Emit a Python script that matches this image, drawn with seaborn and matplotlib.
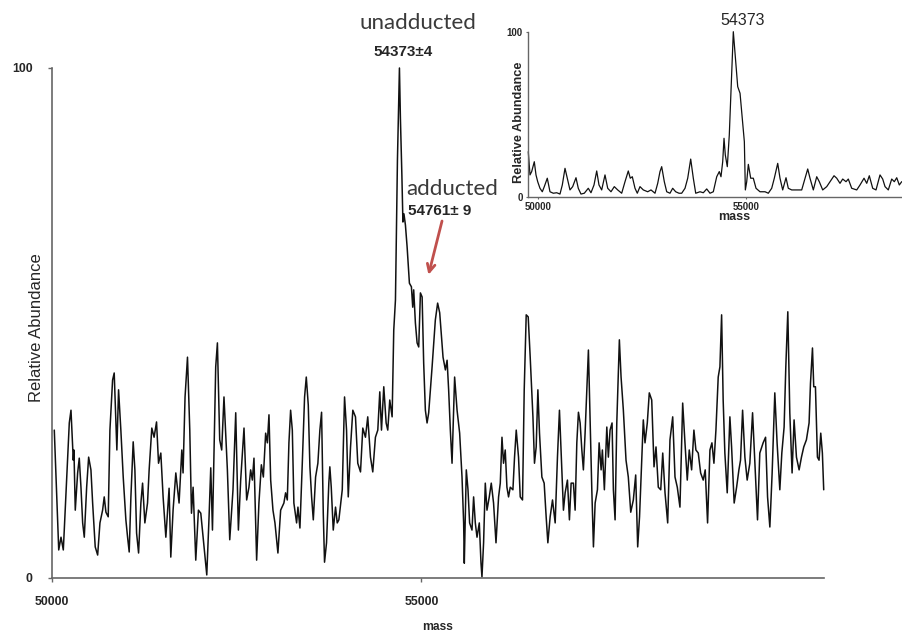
import matplotlib
matplotlib.use("Agg")
import matplotlib.pyplot as plt
import seaborn as sns

# main spectrum (mass, relative abundance)
mass_main = [
    50031, 50091, 50122, 50153, 50166, 50234, 50257, 50288, 50297, 50315,
    50347, 50369, 50392, 50415, 50437, 50469, 50496, 50527, 50550, 50585,
    50618, 50649, 50685, 50707, 50730, 50761, 50784, 50820, 50842, 50865,
    50878, 50901, 50932, 50964, 51000, 51023, 51045, 51068, 51099, 51122,
    51145, 51172, 51203, 51226, 51257, 51293, 51315, 51351, 51382, 51415,
    51442, 51473, 51504, 51541, 51585, 51608, 51639, 51676, 51720, 51757,
    51774, 51801, 51834, 51865, 51888, 51910, 51946, 51982, 52014, 52058,
    52095, 52126, 52149, 52172, 52193, 52216, 52239, 52270, 52297, 52328,
    52374, 52406, 52450, 52487, 52523, 52554, 52599, 52635, 52666, 52689,
    52712, 52734, 52770, 52801, 52834, 52861, 52892, 52915, 52937, 52960,
    52991, 53018, 53058, 53095, 53139, 53162, 53185, 53207, 53230, 53253,
    53274, 53311, 53329, 53356, 53388, 53419, 53442, 53469, 53491, 53514,
    53537, 53568, 53599, 53626, 53649, 53672, 53689, 53716, 53747, 53761,
    53780, 53807, 53838, 53861, 53883, 53929, 53960, 53987, 54010, 54041,
    54072, 54108, 54139, 54176, 54207, 54243, 54274, 54311, 54342, 54378,
    54410, 54437, 54460, 54491, 54523, 54545, 54572, 54604, 54626, 54649,
    54676, 54703, 54716, 54736, 54750, 54764, 54784, 54807, 54838, 54865,
    54883, 54896, 54919, 54942, 54964, 54987, 55010, 55031, 55054, 55077,
    55099, 55145, 55189, 55220, 55248, 55293, 55325, 55348, 55369, 55392,
    55415, 55437, 55450, 55483, 55518, 55550, 55572, 55581, 55608, 55631,
    55653, 55685, 55707, 55730, 55753, 55784, 55807, 55820, 55842, 55865,
    55888, 55919, 55946, 55977, 56010, 56045, 56068, 56091, 56112, 56135,
    56158, 56180, 56203, 56239, 56261, 56284, 56315, 56338, 56369, 56392,
    56419, 56446, 56473, 56510, 56531, 56554, 56577, 56599, 56631, 56662,
    56689, 56712, 56743, 56775, 56811, 56842, 56869, 56902, 56923, 56946,
    56977, 57004, 57027, 57058, 57081, 57104, 57126, 57149, 57172, 57193,
    57216, 57239, 57261, 57284, 57307, 57329, 57352, 57383, 57406, 57433,
    57450, 57477, 57510, 57531, 57554, 57581, 57599, 57622, 57645, 57680,
    57703, 57734, 57770, 57801, 57834, 57869, 57901, 57928, 57953, 57982,
    58004, 58027, 58058, 58085, 58118, 58149, 58176, 58207, 58240, 58267,
    58298, 58334, 58365, 58402, 58433, 58464, 58500, 58537, 58568, 58599,
    58626, 58658, 58689, 58716, 58748, 58780, 58815, 58842, 58874, 58906,
    58933, 58960, 58987, 59018, 59041, 59064, 59085, 59108, 59140, 59176,
    59199, 59234, 59267, 59298, 59320, 59348, 59379, 59410, 59446, 59483,
    59514, 59550, 59581, 59626, 59659, 59686, 59717, 59748, 59784, 59815,
    59852, 59879, 59910, 59933, 59960, 59987, 60018, 60045, 60077, 60113,
    60145, 60176, 60212, 60248, 60267, 60294, 60311, 60334, 60361, 60383,
    60406, 60428, 60446,
]
abund_main = [
    29.0, 5.5, 8.0, 5.5, 9.4, 30.4, 32.9, 23.1, 25.1, 13.3,
    20.6, 23.5, 17.8, 10.8, 8.0, 17.8, 23.7, 21.2, 14.7, 6.1,
    4.5, 10.8, 13.3, 15.9, 12.9, 12.0, 29.0, 38.8, 40.2, 30.4,
    25.1, 36.9, 29.0, 19.8, 11.4, 8.0, 5.1, 15.9, 26.7, 21.2,
    8.8, 4.9, 14.7, 18.6, 10.8, 14.7, 21.2, 29.4, 27.6, 30.6,
    22.5, 24.5, 15.9, 8.0, 17.6, 4.1, 13.3, 20.6, 14.7, 25.1,
    20.6, 35.5, 43.3, 29.0, 12.7, 17.8, 3.5, 13.3, 12.7, 6.1,
    0.6, 12.0, 21.6, 9.4, 24.5, 41.4, 46.1, 27.1, 25.1, 35.5,
    21.2, 7.5, 17.3, 32.4, 9.4, 19.2, 29.4, 15.3, 17.8, 21.2,
    19.2, 23.5, 3.5, 14.7, 22.2, 19.8, 28.4, 26.5, 32.0, 19.2,
    13.3, 10.8, 4.9, 13.3, 14.7, 16.7, 15.3, 26.5, 32.9, 29.0,
    14.7, 10.8, 13.9, 9.8, 22.5, 35.5, 39.4, 33.9, 21.8, 15.9,
    11.4, 19.8, 22.5, 29.0, 32.5, 12.7, 3.1, 6.9, 18.6, 21.8,
    17.8, 9.4, 13.9, 10.8, 11.4, 17.3, 35.5, 29.0, 15.9, 25.7,
    32.9, 31.6, 22.5, 20.8, 29.4, 27.6, 31.6, 23.7, 20.8, 27.6,
    29.0, 36.5, 29.0, 37.5, 30.4, 29.0, 34.9, 31.6, 48.6, 54.5,
    82.0, 100.0, 90.2, 79.0, 69.8, 71.4, 69.2, 64.9, 57.8, 57.1,
    53.1, 56.5, 50.0, 46.1, 45.3, 55.9, 55.1, 42.2, 32.9, 30.4,
    32.4, 41.4, 50.6, 53.9, 52.0, 43.3, 40.8, 42.7, 36.9, 29.0,
    22.5, 33.5, 39.4, 32.9, 28.4, 19.8, 10.8, 2.9, 21.2, 17.3,
    10.8, 9.4, 15.9, 10.8, 8.0, 10.8, 2.9, 0.2, 6.9, 18.6,
    13.3, 15.9, 18.6, 14.7, 6.9, 15.9, 18.6, 27.6, 22.5, 25.1,
    17.8, 15.9, 17.8, 17.3, 23.7, 29.0, 23.7, 15.9, 15.3, 36.9,
    51.6, 51.2, 43.3, 31.6, 22.5, 25.7, 36.9, 28.4, 19.8, 18.6,
    12.0, 6.9, 12.0, 15.3, 10.8, 23.7, 32.9, 20.6, 13.3, 16.7,
    19.2, 11.4, 18.6, 18.6, 13.3, 26.5, 32.5, 30.4, 25.1, 21.2,
    28.4, 36.9, 44.7, 31.0, 17.3, 6.1, 14.7, 17.3, 26.5, 21.2,
    25.1, 17.3, 29.6, 23.7, 29.0, 30.4, 17.3, 11.4, 30.4, 46.7,
    39.4, 32.9, 23.1, 19.8, 12.9, 15.3, 20.2, 6.1, 12.0, 23.1,
    31.0, 26.5, 30.4, 36.3, 34.9, 21.8, 25.7, 17.8, 17.3, 24.5,
    16.7, 10.8, 27.1, 31.6, 19.8, 17.8, 13.9, 34.3, 26.5, 19.2,
    25.1, 21.2, 29.0, 25.1, 24.5, 20.6, 19.2, 21.2, 10.8, 25.1,
    26.5, 22.5, 29.0, 39.4, 41.4, 51.6, 34.9, 24.5, 16.7, 31.6,
    25.7, 14.7, 17.8, 21.2, 23.1, 32.9, 23.7, 19.2, 22.5, 32.4,
    22.5, 11.4, 24.5, 26.5, 27.6, 15.9, 10.0, 20.6, 36.3, 26.5,
    17.3, 24.5, 29.6, 41.4, 52.2, 32.4, 20.6, 31.0, 23.7, 21.2,
    23.7, 25.7, 27.1, 30.4, 38.2, 45.1, 37.5, 37.5, 23.7, 23.1,
    28.4, 24.5, 17.3,
]

# inset spectrum (wider view)
mass_inset = [
    49754, 49795, 49836, 49899, 49940, 49981, 50036, 50092, 50140, 50212,
    50277, 50357, 50439, 50518, 50574, 50639, 50694, 50759, 50824, 50904,
    50959, 51024, 51104, 51200, 51265, 51338, 51403, 51458, 51523, 51603,
    51668, 51747, 51827, 51909, 52005, 52085, 52164, 52212, 52261, 52326,
    52381, 52446, 52526, 52632, 52711, 52808, 52873, 52928, 52969, 53032,
    53090, 53169, 53234, 53306, 53386, 53451, 53531, 53596, 53668, 53731,
    53789, 53892, 53972, 54054, 54133, 54213, 54295, 54357, 54398, 54439,
    54471, 54502, 54550, 54598, 54639, 54695, 54760, 54801, 54857, 54912,
    54961, 54985, 55018, 55057, 55114, 55177, 55242, 55338, 55459, 55538,
    55620, 55683, 55765, 55820, 55885, 55965, 56020, 56102, 56223, 56343,
    56423, 56488, 56543, 56623, 56705, 56767, 56849, 56946, 57025, 57122,
    57187, 57266, 57331, 57411, 57466, 57548, 57669, 57748, 57845, 57910,
    57972, 58054, 58134, 58230, 58295, 58351, 58430, 58512, 58575, 58633,
    58695, 58753,
]
abund_inset = [
    27.3, 13.2, 15.2, 21.2, 13.2, 9.1, 5.1, 3.0, 6.1, 11.2,
    3.0, 2.1, 2.4, 1.6, 7.1, 17.2, 11.2, 4.1, 6.1, 11.5,
    5.1, 1.6, 2.1, 5.1, 2.4, 7.1, 15.6, 7.1, 4.1, 13.2,
    5.1, 3.0, 6.1, 4.1, 2.1, 9.1, 15.6, 11.2, 12.1, 5.1,
    2.1, 6.1, 4.1, 3.0, 4.1, 2.1, 8.1, 15.2, 18.2, 9.1,
    3.0, 2.1, 5.1, 3.0, 2.1, 2.1, 5.1, 11.2, 22.8, 11.2,
    2.1, 3.0, 2.4, 4.7, 2.1, 3.0, 12.1, 15.2, 12.1, 21.2,
    35.4, 25.3, 18.2, 37.4, 63.6, 100.0, 79.8, 66.7, 62.7, 47.5,
    33.3, 4.1, 9.1, 19.6, 11.2, 11.2, 5.1, 3.0, 3.0, 2.1,
    5.1, 11.2, 20.2, 11.2, 4.1, 11.5, 5.1, 4.1, 4.1, 4.1,
    11.2, 16.8, 11.2, 4.1, 12.1, 9.1, 4.1, 6.1, 9.1, 12.7,
    11.2, 8.1, 10.7, 9.1, 10.7, 5.1, 4.1, 7.1, 11.2, 8.1,
    12.7, 5.1, 4.1, 13.2, 10.7, 6.1, 4.1, 10.7, 9.1, 11.5,
    7.1, 9.1,
]

sns.set_style("white")
plt.rcParams["font.family"] = ["Liberation Sans", "DejaVu Sans"]

spine_col = "#666666"
fig = plt.figure(figsize=(9.02, 6.33), dpi=100)

# === main spectrum ===
ax = fig.add_axes([0.05765, 0.08689, 0.85588, 0.80569])
sns.lineplot(x=mass_main, y=abund_main, ax=ax, color="#111111",
             linewidth=1.1, estimator=None, sort=False)
ax.set_xlim(50000, 60450)
ax.set_ylim(0, 100)
for line in ax.lines:
    line.set_clip_on(False)
sns.despine(ax=ax)
for s in ["left", "bottom"]:
    ax.spines[s].set_color(spine_col)
    ax.spines[s].set_linewidth(1.2)
ax.set_xticks([50000, 55000])
ax.set_xticklabels(["50000", "55000"], fontsize=8.8, fontweight="bold")
ax.set_yticks([0, 100])
ax.set_yticklabels(["0", "100"], fontsize=8.8, fontweight="bold")
ax.tick_params(axis="both", direction="out", length=3, width=1,
               color=spine_col, pad=10, left=True, bottom=True)
ax.tick_params(axis="y", pad=11)
ax.set_xlabel("mass", fontsize=8.7, fontweight="bold")
ax.xaxis.set_label_coords(0.5, -0.085)
ax.set_ylabel("Relative Abundance", fontsize=12)
ax.yaxis.set_label_coords(-0.0104, 0.49)

# === inset ===
axi = fig.add_axes([0.58503, 0.68926, 0.41497, 0.26066])
axi.set_facecolor("none")
sns.lineplot(x=mass_inset, y=abund_inset, ax=axi, color="#111111",
             linewidth=0.9, estimator=None, sort=False)
axi.set_xlim(49740, 58760)
axi.set_ylim(0, 100)
for line in axi.lines:
    line.set_clip_on(False)
sns.despine(ax=axi)
for s in ["left", "bottom"]:
    axi.spines[s].set_color(spine_col)
    axi.spines[s].set_linewidth(1.0)
axi.set_xticks([50000, 55000])
axi.set_xticklabels(["50000", "55000"], fontsize=7, fontweight="bold")
axi.set_yticks([0, 100])
axi.set_yticklabels(["0", "100"], fontsize=7, fontweight="bold")
axi.tick_params(axis="both", direction="out", length=1.5, width=0.8,
                color=spine_col, pad=2, left=True, bottom=True)
axi.set_xlabel("mass", fontsize=9, fontweight="bold")
axi.xaxis.set_label_coords(0.551, -0.085)
axi.set_ylabel("Relative Abundance", fontsize=9.2, fontweight="bold")
axi.yaxis.set_label_coords(-0.0085, 0.45)

# === annotations ===
label_col = "#3a3a3a"
fig.text(0.4634, 0.9637, "unadducted", ha="center", va="center",
         fontsize=16, color=label_col, family=["Lato", "DejaVu Sans"])
fig.text(0.4465, 0.9171, "54373\u00b14", ha="center", va="center",
         fontsize=11, fontweight="bold")
fig.text(0.5011, 0.7014, "adducted", ha="center", va="center",
         fontsize=16, color=label_col, family=["Lato", "DejaVu Sans"])
fig.text(0.4873, 0.6667, "54761\u00b1 9", ha="center", va="center",
         fontsize=11, fontweight="bold")
fig.text(0.8232, 0.9671, "54373", ha="center", va="center", fontsize=11.5)
ax.annotate("", xy=(0.4743, 0.5616), xytext=(0.4908, 0.6551),
            xycoords="figure fraction", textcoords="figure fraction",
            arrowprops=dict(arrowstyle="->", color="#c0504d", lw=2,
                            mutation_scale=14))

fig.savefig("out.png", dpi=100)
